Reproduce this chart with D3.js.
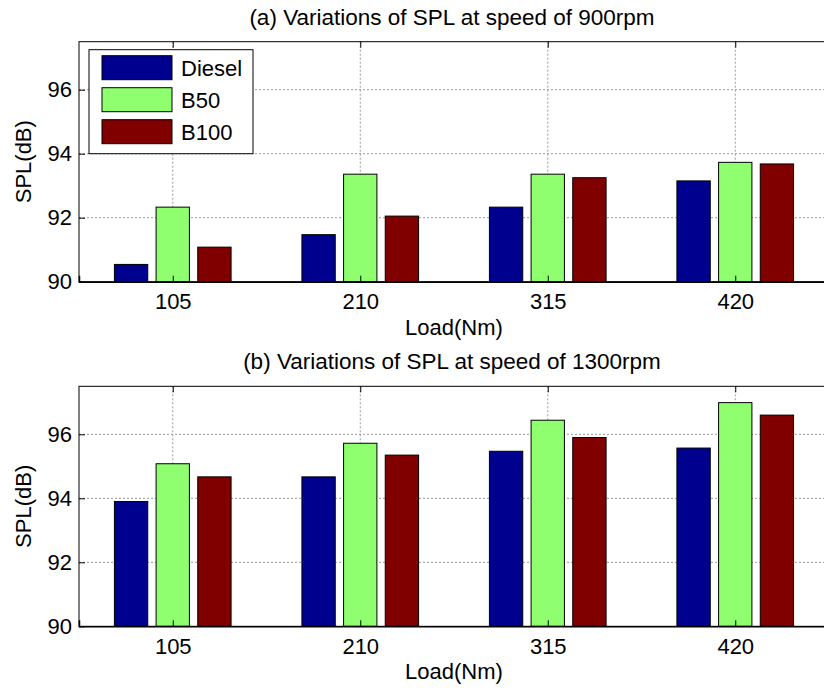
<!DOCTYPE html>
<head>
    <meta charset="utf-8">
    <script src="https://d3js.org/d3.v7.min.js"></script>
    <style>
        body { margin: 0; background: #fff; }
        text { font-family: Arial, "Liberation Sans", Helvetica, sans-serif; fill: #000; }
    </style>
</head>
<body>
    <div id="chart"></div>
    <script>
        // data
        var loads = ["105", "210", "315", "420"]
        var fuels = ["Diesel", "B50", "B100"]
        var fuelColors = ["#00008f", "#8fff70", "#800000"]
        var yTicks = [90, 92, 94, 96]

        // (a) 900 rpm
        var diesel900 = [90.54, 91.47, 92.33, 93.15]
        var b50_900 = [92.33, 93.36, 93.36, 93.73]
        var b100_900 = [91.08, 92.05, 93.25, 93.68]

        // (b) 1300 rpm
        var diesel1300 = [93.90, 94.67, 95.47, 95.57]
        var b50_1300 = [95.08, 95.72, 96.44, 96.99]
        var b100_1300 = [94.67, 95.35, 95.90, 96.60]

        var width = 824, height = 690
        var left = 79, right = 829
        var fs = 22

        var svg = d3.select("#chart").append("svg")
            .attr("width", width)
            .attr("height", height)

        function drawPanel(title, series, top, bottom, showLegend) {
            var g = svg.append("g")

            var x = d3.scaleLinear().domain([0.5, 4.5]).range([left, right])
            var y = d3.scaleLinear().domain([90, 97.5]).range([bottom, top])

            // grid
            g.append("g").selectAll("line.hg").data(yTicks.slice(1))
                .enter().append("line")
                .attr("x1", left).attr("x2", right)
                .attr("y1", d => y(d)).attr("y2", d => y(d))
                .attr("stroke", "#999").attr("stroke-dasharray", "2,2")
            g.append("g").selectAll("line.vg").data(d3.range(1, loads.length + 1))
                .enter().append("line")
                .attr("x1", d => x(d)).attr("x2", d => x(d))
                .attr("y1", top).attr("y2", bottom)
                .attr("stroke", "#999").attr("stroke-dasharray", "2,2")

            // bars (matlab grouped layout: slot 0.222, bar 0.178)
            var slot = 2 / 9, bw = 0.8 * slot
            series.forEach(function(vals, s) {
                g.append("g").selectAll("rect").data(vals)
                    .enter().append("rect")
                    .attr("x", (d, i) => x(i + 1 + (s - 1) * slot - bw / 2))
                    .attr("width", x(bw) - x(0))
                    .attr("y", d => y(d))
                    .attr("height", d => y(90) - y(d))
                    .attr("fill", fuelColors[s])
                    .attr("stroke", "#000")
                    .attr("stroke-width", 1)
            })

            // frame
            g.append("rect")
                .attr("x", left).attr("y", top)
                .attr("width", right - left).attr("height", bottom - top)
                .attr("fill", "none").attr("stroke", "#000")

            // axes with inward ticks
            var yAxis = g.append("g")
                .attr("transform", "translate(" + left + ",0)")
                .call(d3.axisLeft(y).tickValues(yTicks).tickFormat(d3.format("d"))
                    .tickSize(-6).tickPadding(7))
            yAxis.select(".domain").remove()
            yAxis.selectAll("text").attr("font-size", fs).attr("font-family", null)

            var xAxis = g.append("g")
                .attr("transform", "translate(0," + bottom + ")")
                .call(d3.axisBottom(x).tickValues([1, 2, 3, 4])
                    .tickFormat(d => loads[d - 1]).tickSize(-6).tickPadding(12))
            xAxis.select(".domain").attr("stroke-width", 1.5)
            xAxis.selectAll("text").attr("font-size", fs).attr("font-family", null)

            var xTop = g.append("g")
                .attr("transform", "translate(0," + top + ")")
                .call(d3.axisTop(x).tickValues([1, 2, 3, 4]).tickFormat("").tickSize(-6))
            xTop.select(".domain").remove()

            // labels
            g.append("text")
                .attr("x", (left + right) / 2 - 2).attr("y", top - 17)
                .attr("text-anchor", "middle").attr("font-size", 22.5)
                .text(title)
            g.append("text")
                .attr("x", (left + right) / 2).attr("y", bottom + 53)
                .attr("text-anchor", "middle").attr("font-size", fs)
                .text("Load(Nm)")
            g.append("text")
                .attr("transform", "translate(31," + ((top + bottom) / 2) + ") rotate(-90)")
                .attr("text-anchor", "middle").attr("font-size", fs)
                .text("SPL(dB)")

            if (showLegend) {
                var lg = g.append("g").attr("transform", "translate(89," + (top + 8) + ")")
                lg.append("rect")
                    .attr("width", 164).attr("height", 104)
                    .attr("fill", "#fff").attr("stroke", "#000")
                fuels.forEach(function(name, i) {
                    lg.append("rect")
                        .attr("x", 13).attr("y", 6 + i * 32)
                        .attr("width", 70).attr("height", 24)
                        .attr("fill", fuelColors[i]).attr("stroke", "#000")
                    lg.append("text")
                        .attr("x", 92).attr("y", 18 + i * 32)
                        .attr("dy", "0.36em").attr("font-size", fs)
                        .text(name)
                })
            }
        }

        drawPanel("(a) Variations of SPL at speed of 900rpm",
            [diesel900, b50_900, b100_900], 41.7, 281.7, true)
        drawPanel("(b) Variations of SPL at speed of 1300rpm",
            [diesel1300, b50_1300, b100_1300], 386.3, 626.3, false)
    </script>
</body>
</html>
